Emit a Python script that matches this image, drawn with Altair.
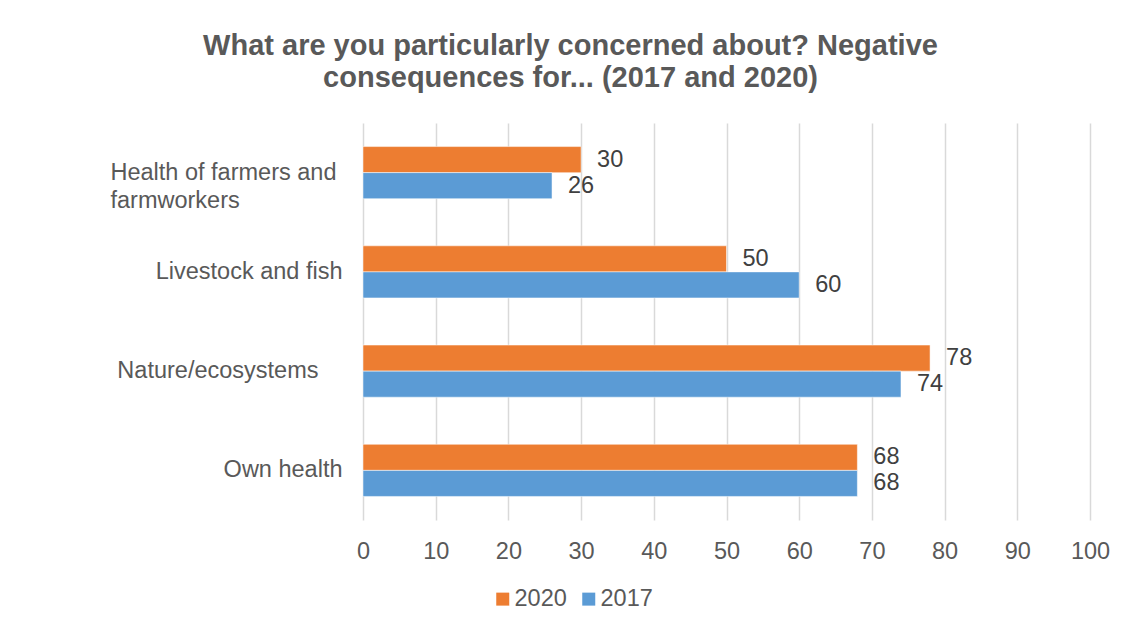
import altair as alt
import pandas as pd

categories = ["Health of farmers and farmworkers", "Livestock and fish", "Nature/ecosystems", "Own health"]
years = ["2020", "2017"]
values_2020 = [30, 50, 78, 68]
values_2017 = [26, 60, 74, 68]
colors = ["#ED7D31", "#5B9BD5"]
x_ticks = list(range(0, 101, 10))
title_lines = ["What are you particularly concerned about? Negative", "consequences for... (2017 and 2020)"]

rows = []
for c, v in zip(categories, values_2020):
    rows.append({"category": c, "year": "2020", "value": v})
for c, v in zip(categories, values_2017):
    rows.append({"category": c, "year": "2017", "value": v})
df = pd.DataFrame(rows)

FONT = "Liberation Sans"
FS = 23.5
label_expr = (
    "datum.value == 'Health of farmers and farmworkers' ? "
    "['Health of farmers and', 'farmworkers'] : datum.value"
)
is_health = "datum.value == 'Health of farmers and farmworkers'"
is_nature = "datum.value == 'Nature/ecosystems'"

base = alt.Chart(df).encode(
    y=alt.Y(
        "category:N",
        sort=categories,
        scale=alt.Scale(paddingInner=0.475, paddingOuter=0.2375),
        axis=alt.Axis(
            title=None, domain=False, ticks=False, grid=False,
            labelExpr=label_expr, labelFont=FONT, labelFontSize=FS,
            labelColor="#595959", labelLineHeight=28, labelLimit=400,
            labelAlign={"condition": {"test": is_health, "value": "left"}, "value": "right"},
            labelPadding={"condition": [
                {"test": is_health, "value": 253},
                {"test": is_nature, "value": 45},
            ], "value": 21},
        ),
    ),
    yOffset=alt.YOffset("year:N", sort=years),
)

bars = base.mark_bar(stroke="white", strokeWidth=0.5).encode(
    x=alt.X(
        "value:Q",
        scale=alt.Scale(domain=[0, 100], nice=False),
        axis=alt.Axis(
            values=x_ticks, title=None, domain=False, ticks=False, grid=True,
            gridColor="#d9d9d9", gridWidth=1.5, labelFont=FONT, labelFontSize=FS,
            labelColor="#595959", labelPadding=19, labelFlush=False,
        ),
    ),
    color=alt.Color(
        "year:N",
        sort=years,
        scale=alt.Scale(domain=years, range=colors),
        legend=alt.Legend(
            title=None, orient="none", legendX=128, legendY=464,
            direction="horizontal", symbolType="square", symbolSize=169,
            symbolStrokeWidth=0, labelFont=FONT, labelFontSize=FS,
            labelColor="#595959", labelOffset=0, columnPadding=10, padding=0,
        ),
    ),
)

text = base.mark_text(
    align="left", baseline="middle", dx=16, font=FONT, fontSize=FS, color="#404040"
).encode(x="value:Q", text="value:Q")

chart = (
    alt.layer(bars, text)
    .properties(
        width=727,
        height=397,
        autosize=alt.AutoSizeParams(type="none"),
        padding={"left": 355, "top": 115, "right": 40, "bottom": 100},
        background="white",
        title=alt.TitleParams(
            text=title_lines, font=FONT, fontSize=29, fontWeight="bold",
            color="#595959", anchor="middle", dx=-156, offset=30, lineHeight=32,
        ),
    )
    .configure_view(stroke=None)
)

chart.save("out.html", embed_options={"renderer": "svg", "actions": False})
